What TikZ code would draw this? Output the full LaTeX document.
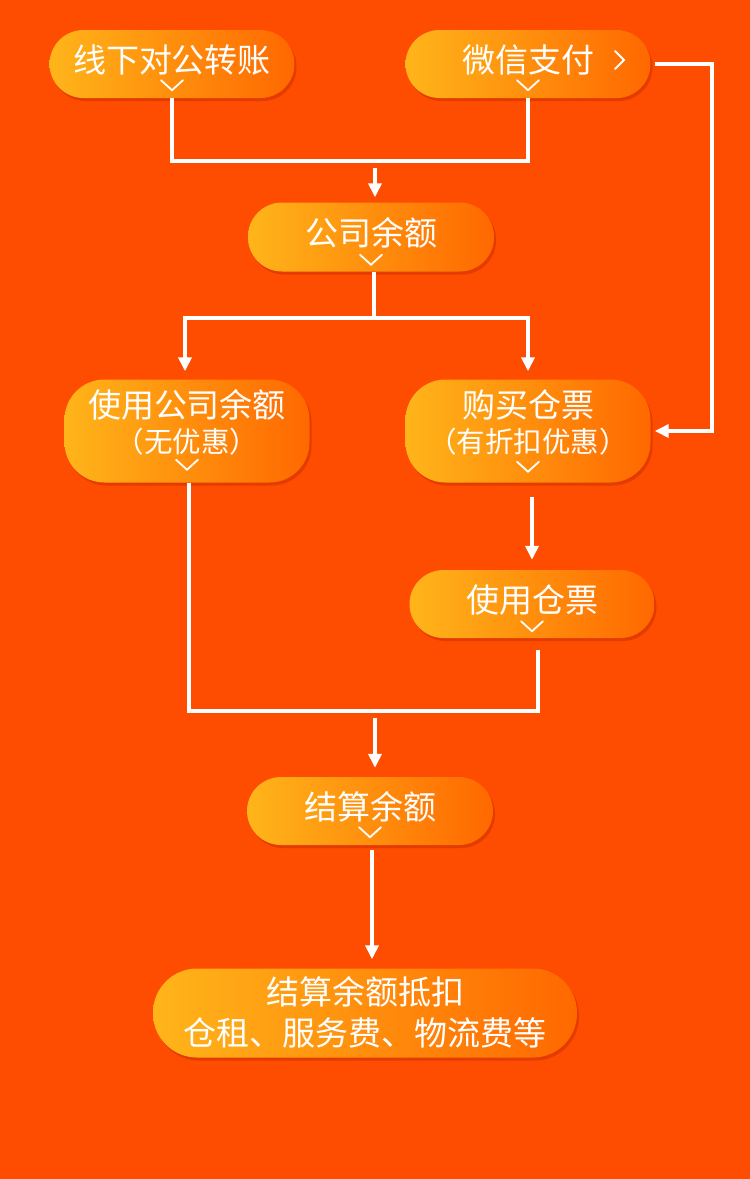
\documentclass[tikz,border=0pt]{standalone}
\usepackage{fontspec}
\newfontfamily\cjk{Noto Sans CJK SC}
\usetikzlibrary{arrows.meta,shadows}
\definecolor{bg}{HTML}{FE4C00}
\definecolor{gl}{HTML}{FFB51A}
\definecolor{gr}{HTML}{FF6800}
\definecolor{sh}{HTML}{D43000}
\tikzset{
 box/.style={rounded corners=34pt, left color=gl, right color=gr, draw=none,
   minimum width=245pt, minimum height=68pt, inner sep=0pt,
   drop shadow={shadow xshift=2pt,shadow yshift=-3pt,fill=sh,opacity=0.6}},
 big/.style={rounded corners=40pt, minimum height=103pt},
 txt/.style={text=white, font=\cjk\fontsize{33}{33}\selectfont, inner sep=0pt},
 sub/.style={text=white, font=\cjk\fontsize{28.5}{28.5}\selectfont, inner sep=0pt},
 conn/.style={draw=white, line width=4pt},
 arr/.style={conn, -{Triangle[width=13pt,length=14pt]}},
 chev/.style={draw=white, line width=1.8pt, line cap=round},
}
\newcommand\mychev[2]{\draw[chev] ([shift={(-11,-#2-10)}]#1.south) -- ([shift={(0,-#2)}]#1.south) -- ([shift={(11,-#2-10)}]#1.south);}
\begin{document}
\begin{tikzpicture}[x=1pt,y=-1pt]
\fill[bg] (0,0) rectangle (750,1179);
\useasboundingbox (0,0) rectangle (750,1179);
% boxes
\node[box] (n1) at (172,64) {};
\node[box] (n2) at (528,64) {};
\node[box, minimum width=246pt, minimum height=69pt] (n3) at (371,237) {};
\node[box, big] (n4) at (187,431) {};
\node[box, big] (n5) at (528,431) {};
\node[box] (n6) at (532,604) {};
\node[box, minimum width=246pt] (n7) at (370,811) {};
\node[box, minimum width=424pt, minimum height=89pt, rounded corners=44pt] (n8) at (365,1013) {};
% texts
\node[txt] (t1) at (n1) [yshift=4pt] {线下对公转账};
\node[txt] (t2) at (n2) [yshift=4pt] {微信支付};
\node[txt] (t3) at (n3) [yshift=4pt] {公司余额};
\node[txt] (t4a) at (n4) [yshift=26pt] {使用公司余额};
\node[sub] (t4b) at (n4) [yshift=-11pt] {（无优惠）};
\node[txt] (t5a) at (n5) [yshift=26pt] {购买仓票};
\node[sub] (t5b) at (n5) [yshift=-11pt] {（有折扣优惠）};
\node[txt] (t6) at (n6) [yshift=4pt] {使用仓票};
\node[txt] (t7) at (n7) [yshift=4pt] {结算余额};
\node[txt] (t8a) at (n8) [yshift=21pt] {结算余额抵扣};
\node[txt] (t8b) at (n8) [yshift=-20pt] {仓租、服务费、物流费等};
% chevrons
\mychev{n1}{8}
\mychev{n2}{8}
\mychev{n3}{7}
\mychev{n4}{13}
\mychev{n5}{11}
\mychev{n6}{7}
\mychev{n7}{8}
\draw[chev] ([shift={(87,-13)}]n2.center) -- ([shift={(96,-4)}]n2.center) -- ([shift={(87,5)}]n2.center);
% connectors
\coordinate (h1) at (0,161);
\coordinate (a1) at (375,168);
\coordinate (r1) at (712,0);
\coordinate (h2) at (0,318);
\coordinate (h3) at (0,711);
\coordinate (a2) at (375,718);
\draw[conn] (n1.south) -- (n1.south |- h1) -| (n2.south);
\draw[arr, shorten >=5pt] (a1) -- (a1 |- n3.north);
\draw[arr, shorten <=4pt, shorten >=4pt] (n2.east) -- (n2.east -| r1) |- (n5.east);
\draw[conn] ([xshift=3pt]n3.south) -- ([xshift=3pt]n3.south |- h2);
\draw[arr, shorten >=8pt] ([xshift=3pt]n3.south |- h2) -| ([xshift=-2pt]n4.north);
\draw[arr, shorten >=8pt] ([xshift=3pt]n3.south |- h2) -| (n5.north);
\draw[arr, shorten <=14pt, shorten >=10pt] (n6.north |- n5.south) -- (n6.north);
\draw[conn, shorten >=12pt] ([xshift=2pt]n4.south) -- ([xshift=2pt]n4.south |- h3) -| ([xshift=6pt]n6.south);
\draw[arr, shorten >=9pt] (a2) -- (a2 |- n7.north);
\draw[arr, shorten <=5pt, shorten >=9pt] ([xshift=2pt]n7.south) -- ([xshift=2pt]n7.south |- n8.north);
\end{tikzpicture}
\end{document}
